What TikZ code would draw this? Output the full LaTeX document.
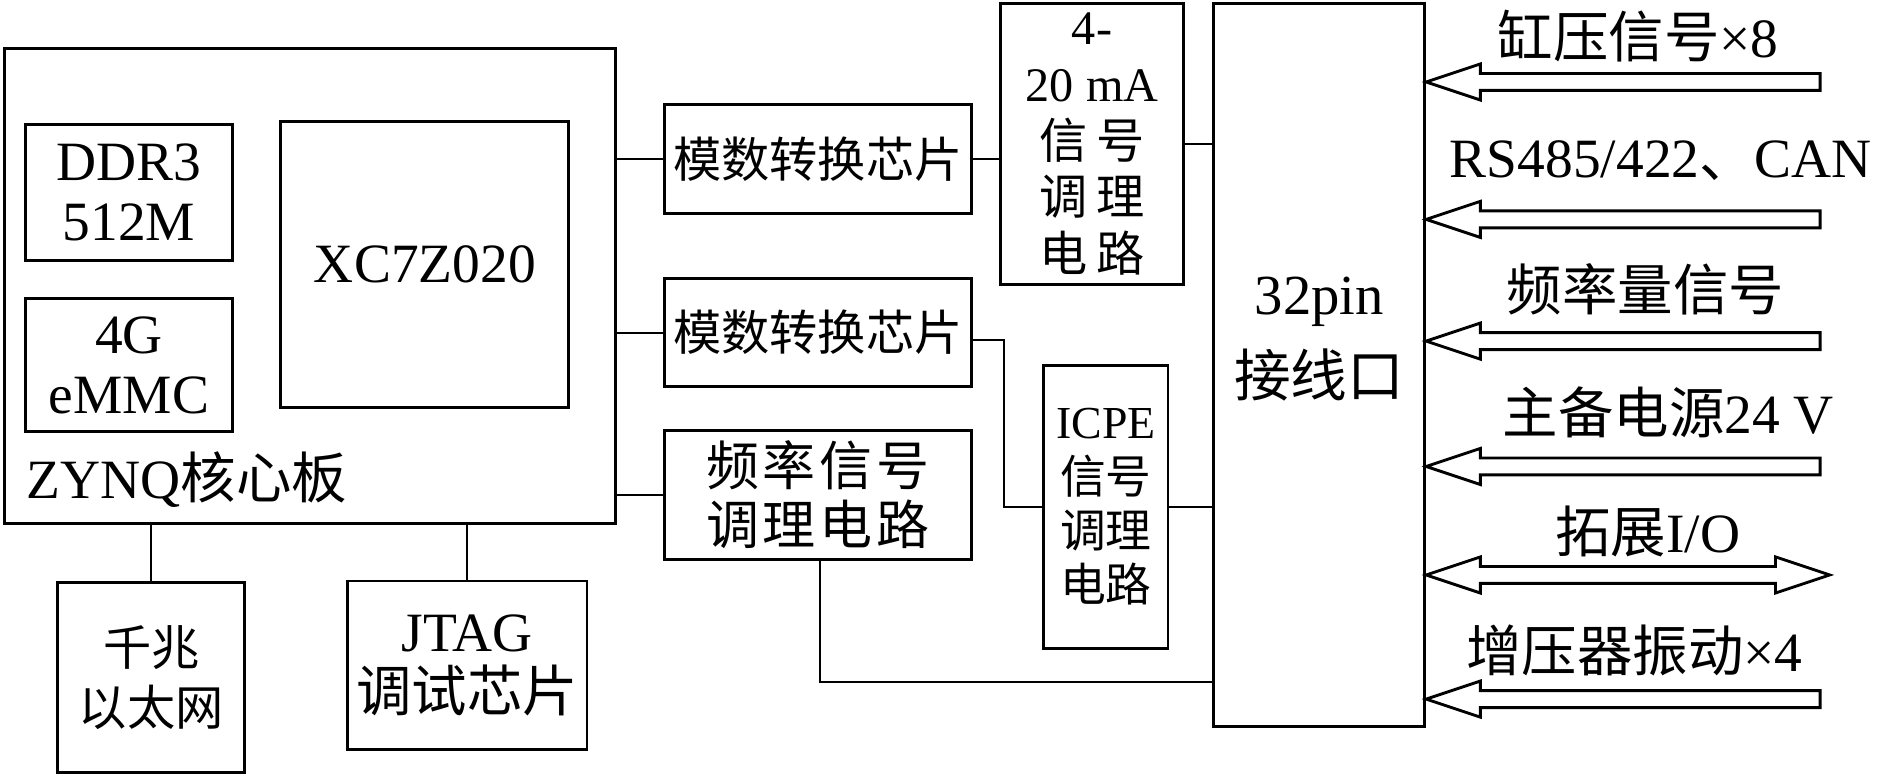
\documentclass[tikz,border=0pt]{standalone}
\usepackage{fontspec}
\setmainfont{Liberation Serif}
\newfontfamily\cjk{Noto Sans CJK SC}
\newcommand\zh[1]{{\cjk #1}}
\usetikzlibrary{calc}
\newcommand\inarrow[2]{%
  \draw[hollow] (#1) -- ++(45,-15) -- ++(0,8) -- ($(#2)+(0,-7)$) -- ++(0,14)
    -- ($(#1)+(45,7)$) -- ++(0,8) -- cycle;}
\begin{document}
\begin{tikzpicture}[x=1pt,y=-1pt,
  box/.style={draw,line width=2.4pt,inner sep=0pt,align=center,font=\fontsize{46}{50}\selectfont},
  txt/.style={inner sep=0pt,align=center,font=\fontsize{46}{50}\selectfont},
  conn/.style={line width=1.8pt},
  hollow/.style={draw,line width=2.4pt,line join=miter}]
\useasboundingbox (0,0) rectangle (1568,643);
% core board
\node[box,minimum width=507pt,minimum height=394pt] (zynq) at (257.5,237) {};
\node[txt,anchor=west] (zl) at (22,398) {ZYNQ\zh{核心板}};
\node[box,minimum width=172pt,minimum height=113pt] (ddr) at (107,159.5) {DDR3\\512M};
\node[box,minimum width=172pt,minimum height=110pt] (emmc) at (107,303) {4G\\eMMC};
\node[box,minimum width=239pt,minimum height=237pt] (xc) at (352.5,219.5) {XC7Z020};
\node[box,minimum width=155pt,minimum height=158pt,font=\fontsize{40}{50}\selectfont] (eth) at (125.5,562) {\zh{千兆}\\\zh{以太网}};
\node[box,minimum width=199pt,minimum height=140pt] (jtag) at (387.5,552) {JTAG\\\zh{调试芯片}};
% middle column
\node[box,minimum width=255pt,minimum height=90pt,font=\fontsize{40}{48}\selectfont] (ad1) at (678.5,132) {\zh{模数转换芯片}};
\node[box,minimum width=255pt,minimum height=90pt,font=\fontsize{40}{48}\selectfont] (ad2) at (678.5,276) {\zh{模数转换芯片}};
\node[box,minimum width=255pt,minimum height=107pt,font=\fontsize{44}{49}\selectfont] (freq) at (678.5,410.5) {\zh{频\hspace{3pt}率\hspace{3pt}信\hspace{3pt}号}\\\zh{调\hspace{3pt}理\hspace{3pt}电\hspace{3pt}路}};
\node[box,minimum width=152pt,minimum height=233pt,font=\fontsize{40}{47}\selectfont] (ma) at (906,119.5) {4-\\20 mA\\\zh{信\hspace{8pt}号}\\\zh{调\hspace{8pt}理}\\\zh{电\hspace{8pt}路}};
\node[box,minimum width=103pt,minimum height=235pt,font=\fontsize{38}{45}\selectfont] (icpe) at (917.5,420.5) {ICPE\\\zh{信号}\\\zh{调理}\\\zh{电路}};
% connector block
\node[box,minimum width=175pt,minimum height=600pt] (pin) at (1094.5,303) {};
\node[txt,font=\fontsize{47}{68}\selectfont] (pinl) at (1094.5,281) {32pin\\\zh{接线口}};
% connectors
\draw[conn] (ad1.west) -- (ad1.west -| zynq.east);
\draw[conn] (ad2.west) -- (ad2.west -| zynq.east);
\draw[conn] (freq.west) -- (freq.west -| zynq.east);
\draw[conn] (ad1.east) -- (ad1.east -| ma.west);
\draw[conn] (ma.east) -- (ma.east -| pin.west);
\coordinate (j1) at (833,282);
\draw[conn] (ad2.east |- j1) -- (j1) |- (icpe.west);
\draw[conn] (icpe.east) -- (icpe.east -| pin.west);
\coordinate (j2) at (680,566);
\draw[conn] (freq.south -| j2) -- (j2) -- (j2 -| pin.west);
\draw[conn] (zynq.south -| eth.north) -- (eth.north);
\draw[conn] (zynq.south -| jtag.north) -- (jtag.north);
% external signals
\foreach \n/\y in {1/68,2/182,3/283,4/387,6/580}{
  \coordinate (t\n) at (1510,\y);
  \coordinate (h\n) at (pin.east |- t\n);
  \inarrow{h\n}{t\n}
}
\coordinate (io) at (1518,477);
\coordinate (hio) at (pin.east |- io);
\draw[hollow] (hio) -- ++(45,-15) -- ++(0,8) -- ($(io)+(-45,-7)$) -- ++(0,-8) -- (io)
  -- ++(-45,15) -- ++(0,-8) -- ($(hio)+(45,7)$) -- ++(0,8) -- cycle;
\node[txt] (l1) at (1359,30) {\zh{缸压信号}×8};
\node[txt] (l2) at (1378,133) {RS485/422\zh{、}CAN};
\node[txt] (l3) at (1365,240) {\zh{频率量信号}};
\node[txt] (l4) at (1384,342) {\zh{主备电源}24 V};
\node[txt] (l5) at (1367,441) {\zh{拓展}I/O};
\node[txt] (l6) at (1356,540) {\zh{增压器振动}×4};
\end{tikzpicture}
\end{document}
